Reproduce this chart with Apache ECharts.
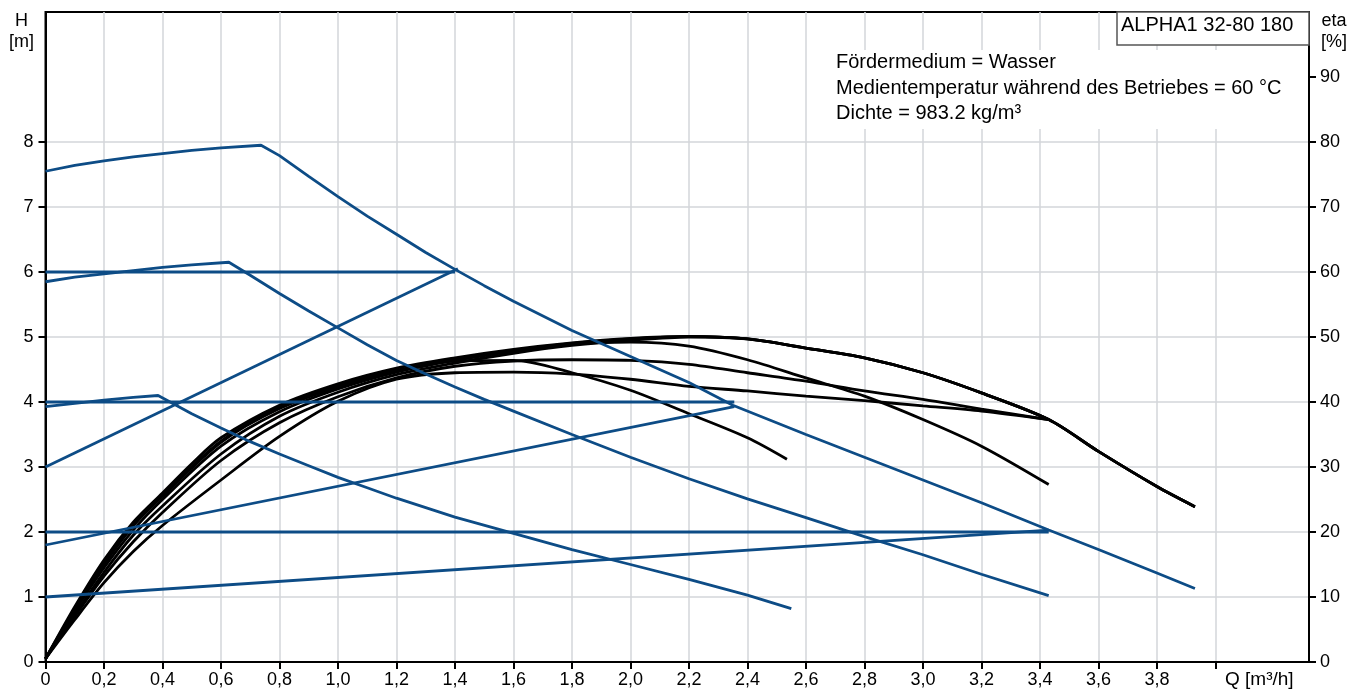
<!DOCTYPE html>
<html>
<head>
<meta charset="utf-8">
<script src="https://cdn.jsdelivr.net/npm/echarts@6/dist/echarts.min.js"></script>
<style>
html,body{margin:0;padding:0;background:#fff;}
#chart{width:1361px;height:691px;}
</style>
</head>
<body>
<div id="chart"></div>
<script>
// ---- Tick values ----
const qTickValues = [0,0.2,0.4,0.6,0.8,1.0,1.2,1.4,1.6,1.8,2.0,2.2,2.4,2.6,2.8,3.0,3.2,3.4,3.6,3.8,4.0];
const qLabelValues = [0,0.2,0.4,0.6,0.8,1.0,1.2,1.4,1.6,1.8,2.0,2.2,2.4,2.6,2.8,3.0,3.2,3.4,3.6,3.8];
const hTickValues = [0,1,2,3,4,5,6,7,8];
const etaTickValues = [0,10,20,30,40,50,60,70,80,90];

// ---- Head curves H [m] vs Q [m3/h] ----
const hCurveMax = [[0,7.55],[0.1,7.64],[0.2,7.71],[0.3,7.77],[0.4,7.82],[0.5,7.87],[0.6,7.91],[0.737,7.95],[0.8,7.79],[0.9,7.47],[1.0,7.16],[1.1,6.86],[1.2,6.58],[1.3,6.3],[1.4,6.04],[1.5,5.79],[1.6,5.55],[1.8,5.1],[2.0,4.7],[2.2,4.3],[2.35,3.95],[2.6,3.5],[2.8,3.15],[3.0,2.8],[3.2,2.45],[3.43,2.03],[3.6,1.73],[3.8,1.37],[3.93,1.13]];
const hCurveMid = [[0,5.85],[0.1,5.92],[0.2,5.97],[0.3,6.02],[0.4,6.07],[0.5,6.11],[0.627,6.15],[0.7,5.95],[0.8,5.67],[0.9,5.4],[1.0,5.14],[1.1,4.88],[1.2,4.64],[1.3,4.43],[1.4,4.23],[1.5,4.04],[1.6,3.86],[1.8,3.5],[2.0,3.15],[2.2,2.82],[2.4,2.51],[2.6,2.22],[2.8,1.93],[3.0,1.65],[3.2,1.35],[3.43,1.02]];
const hCurveLow = [[0,3.93],[0.1,3.98],[0.2,4.03],[0.3,4.07],[0.385,4.1],[0.5,3.82],[0.6,3.6],[0.7,3.39],[0.8,3.2],[0.9,3.02],[1.0,2.84],[1.1,2.68],[1.2,2.52],[1.4,2.23],[1.6,1.98],[1.8,1.73],[2.0,1.5],[2.2,1.27],[2.4,1.03],[2.55,0.82]];
const hConst6 = [[0,6.0],[1.4,6.0]];
const hConst4 = [[0,4.0],[2.355,4.0]];
const hConst2 = [[0,2.0],[3.43,2.0]];
const hProp3 = [[0,3.0],[1.41,6.05]];
const hProp2 = [[0,1.8],[2.355,3.93]];
const hProp1 = [[0,1.0],[3.43,2.03]];

// ---- Efficiency curves eta [%] vs Q ----
const etaMax = [[0,0.5],[0.1,8.5],[0.2,15.7],[0.3,21.5],[0.4,26],[0.5,30.5],[0.6,34.5],[0.8,39.5],[1.0,42.8],[1.2,45.2],[1.4,46.8],[1.6,48.1],[1.8,49.1],[2.0,49.8],[2.2,50.1],[2.4,49.7],[2.6,48.3],[2.8,46.8],[3.0,44.5],[3.2,41.4],[3.43,37.3],[3.6,32.4],[3.8,27.0],[3.93,23.9]];
const etaMaxB = [[0,0.5],[0.1,8.2],[0.2,15.2],[0.3,21],[0.4,25.5],[0.6,33.8],[0.8,39],[1.0,42.3],[1.2,44.8],[1.4,46.5],[1.6,47.9],[1.8,49],[2.0,49.7],[2.2,50.1],[2.4,49.7],[2.6,48.3],[2.8,46.8],[3.0,44.5],[3.2,41.4],[3.43,37.3],[3.6,32.4],[3.8,27.0],[3.93,23.9]];
const etaMaxC = [[0,0.5],[0.1,7.3],[0.2,13.8],[0.3,19.5],[0.4,24],[0.6,32],[0.8,37.8],[1.0,41.5],[1.2,44.2],[1.4,46],[1.6,47.5],[1.8,48.7],[2.0,49.5],[2.2,50],[2.4,49.7],[2.6,48.3],[2.8,46.8],[3.0,44.5],[3.2,41.4],[3.43,37.3],[3.6,32.4],[3.8,27.0],[3.93,23.9]];
const etaMid = [[0,0.5],[0.1,7.8],[0.2,14.5],[0.3,20.3],[0.4,25],[0.6,33.2],[0.8,38.5],[1.0,42],[1.2,44.6],[1.4,46.4],[1.6,47.8],[1.8,48.9],[2.0,49.2],[2.2,48.6],[2.4,46.5],[2.6,43.7],[2.8,40.9],[3.0,37.3],[3.2,33.2],[3.43,27.3]];
const etaLow = [[0,0.5],[0.1,8],[0.2,15],[0.3,21],[0.4,25.7],[0.6,34],[0.8,39.2],[1.0,42.5],[1.2,44.9],[1.4,46.3],[1.6,46.4],[1.8,44.5],[2.0,41.8],[2.2,38.2],[2.4,34.5],[2.535,31.2]];
const etaSetA = [[0,0.5],[0.1,7],[0.2,13.2],[0.3,18.5],[0.4,23],[0.6,31],[0.8,36.8],[1.0,40.8],[1.2,43.7],[1.4,45.5],[1.6,46.3],[1.8,46.5],[2.0,46.4],[2.2,45.8],[2.4,44.5],[2.6,43.2],[2.8,41.7],[3.0,40.4],[3.2,38.9],[3.43,37.3]];
const etaSetB = [[0,0.5],[0.1,6.5],[0.2,12.2],[0.3,17],[0.4,21],[0.6,28],[0.8,34.7],[1.0,40.1],[1.2,43.5],[1.4,44.5],[1.6,44.6],[1.8,44.3],[2.0,43.5],[2.2,42.4],[2.4,41.7],[2.6,40.9],[2.8,40.2],[3.0,39.4],[3.2,38.6],[3.43,37.3]];

const FONT = "'Liberation Sans', Arial, sans-serif";
const BLUE = '#0d4c86';

const chart = echarts.init(document.getElementById('chart'), null, {renderer:'canvas'});

function blueLine(d){
  return {type:'line', data:d, yAxisIndex:0, showSymbol:false, symbol:'none', smooth:false,
    lineStyle:{color:BLUE, width:2.8}, z:4, silent:true, animation:false};
}
function blackLine(d){
  return {type:'line', data:d, yAxisIndex:1, showSymbol:false, symbol:'none', smooth:0.3,
    lineStyle:{color:'#000', width:2.8}, z:3, silent:true, animation:false};
}

const option = {
  animation:false,
  textStyle:{fontFamily:FONT},
  grid:{left:45.5, right:52, top:12, bottom:29, show:true, borderColor:'#000', borderWidth:2, backgroundColor:'transparent'},
  xAxis:{
    type:'value', min:0, max:4.32, interval:0.2,
    axisLine:{show:true, onZero:false, lineStyle:{color:'#000', width:2}},
    axisTick:{show:true, inside:false, length:7, customValues:qTickValues, lineStyle:{color:'#000', width:2}},
    axisLabel:{show:true, margin:9, fontSize:18, color:'#000', fontFamily:FONT, customValues:qLabelValues,
      formatter:function(v){ if (Math.abs(v) < 1e-9) return '0'; return v.toFixed(1).replace('.', ','); }},
    splitLine:{show:true, lineStyle:{color:'#d3d6da', width:1.5}}
  },
  yAxis:[
    {type:'value', min:0, max:10, interval:1, position:'left',
     axisLine:{show:true, lineStyle:{color:'#000', width:2}},
     axisTick:{show:true, length:7, customValues:hTickValues, lineStyle:{color:'#000', width:2}},
     axisLabel:{margin:12, fontSize:18, color:'#000', fontFamily:FONT, customValues:hTickValues,
       formatter:function(v){ return String(v); }},
     splitLine:{show:true, lineStyle:{color:'#d3d6da', width:1.5}}},
    {type:'value', min:0, max:100, interval:10, position:'right',
     axisLine:{show:true, lineStyle:{color:'#000', width:2}},
     axisTick:{show:true, length:7, customValues:etaTickValues, lineStyle:{color:'#000', width:2}},
     axisLabel:{margin:11, fontSize:18, color:'#000', fontFamily:FONT, customValues:etaTickValues,
       formatter:function(v){ return String(v); }},
     splitLine:{show:false}}
  ],
  graphic:[
    {type:'rect', z:50, shape:{x:825, y:50, width:483, height:79}, style:{fill:'#fff'}},
    {type:'rect', z:51, shape:{x:1117, y:12, width:192, height:33}, style:{fill:'#fff', stroke:'#555', lineWidth:1.5}},
    {type:'text', z:52, left:1121, top:15, style:{text:'ALPHA1 32-80 180', font:'20px '+FONT, fill:'#000'}},
    {type:'text', z:52, left:836, top:52, style:{text:'Fördermedium = Wasser', font:'20px '+FONT, fill:'#000'}},
    {type:'text', z:52, left:836, top:78, style:{text:'Medientemperatur während des Betriebes = 60 °C', font:'20px '+FONT, fill:'#000'}},
    {type:'text', z:52, left:836, top:103, style:{text:'Dichte = 983.2 kg/m³', font:'20px '+FONT, fill:'#000'}},
    {type:'text', z:52, x:21.5, y:21.5, style:{text:'H', font:'18px '+FONT, fill:'#000', align:'center', verticalAlign:'middle'}},
    {type:'text', z:52, x:21.5, y:42, style:{text:'[m]', font:'18px '+FONT, fill:'#000', align:'center', verticalAlign:'middle'}},
    {type:'text', z:52, x:1334, y:21, style:{text:'eta', font:'18px '+FONT, fill:'#000', align:'center', verticalAlign:'middle'}},
    {type:'text', z:52, x:1334, y:42, style:{text:'[%]', font:'18px '+FONT, fill:'#000', align:'center', verticalAlign:'middle'}},
    {type:'text', z:52, x:1225, y:680, style:{text:'Q [m³/h]', font:'19px '+FONT, fill:'#000', align:'left', verticalAlign:'middle'}}
  ],
  series:[
    blackLine(etaSetB), blackLine(etaSetA), blackLine(etaLow), blackLine(etaMid),
    blackLine(etaMaxC), blackLine(etaMaxB), blackLine(etaMax),
    blueLine(hConst6), blueLine(hConst4), blueLine(hConst2),
    blueLine(hProp3), blueLine(hProp2), blueLine(hProp1),
    blueLine(hCurveLow), blueLine(hCurveMid), blueLine(hCurveMax)
  ]
};
chart.setOption(option);
</script>
</body>
</html>
